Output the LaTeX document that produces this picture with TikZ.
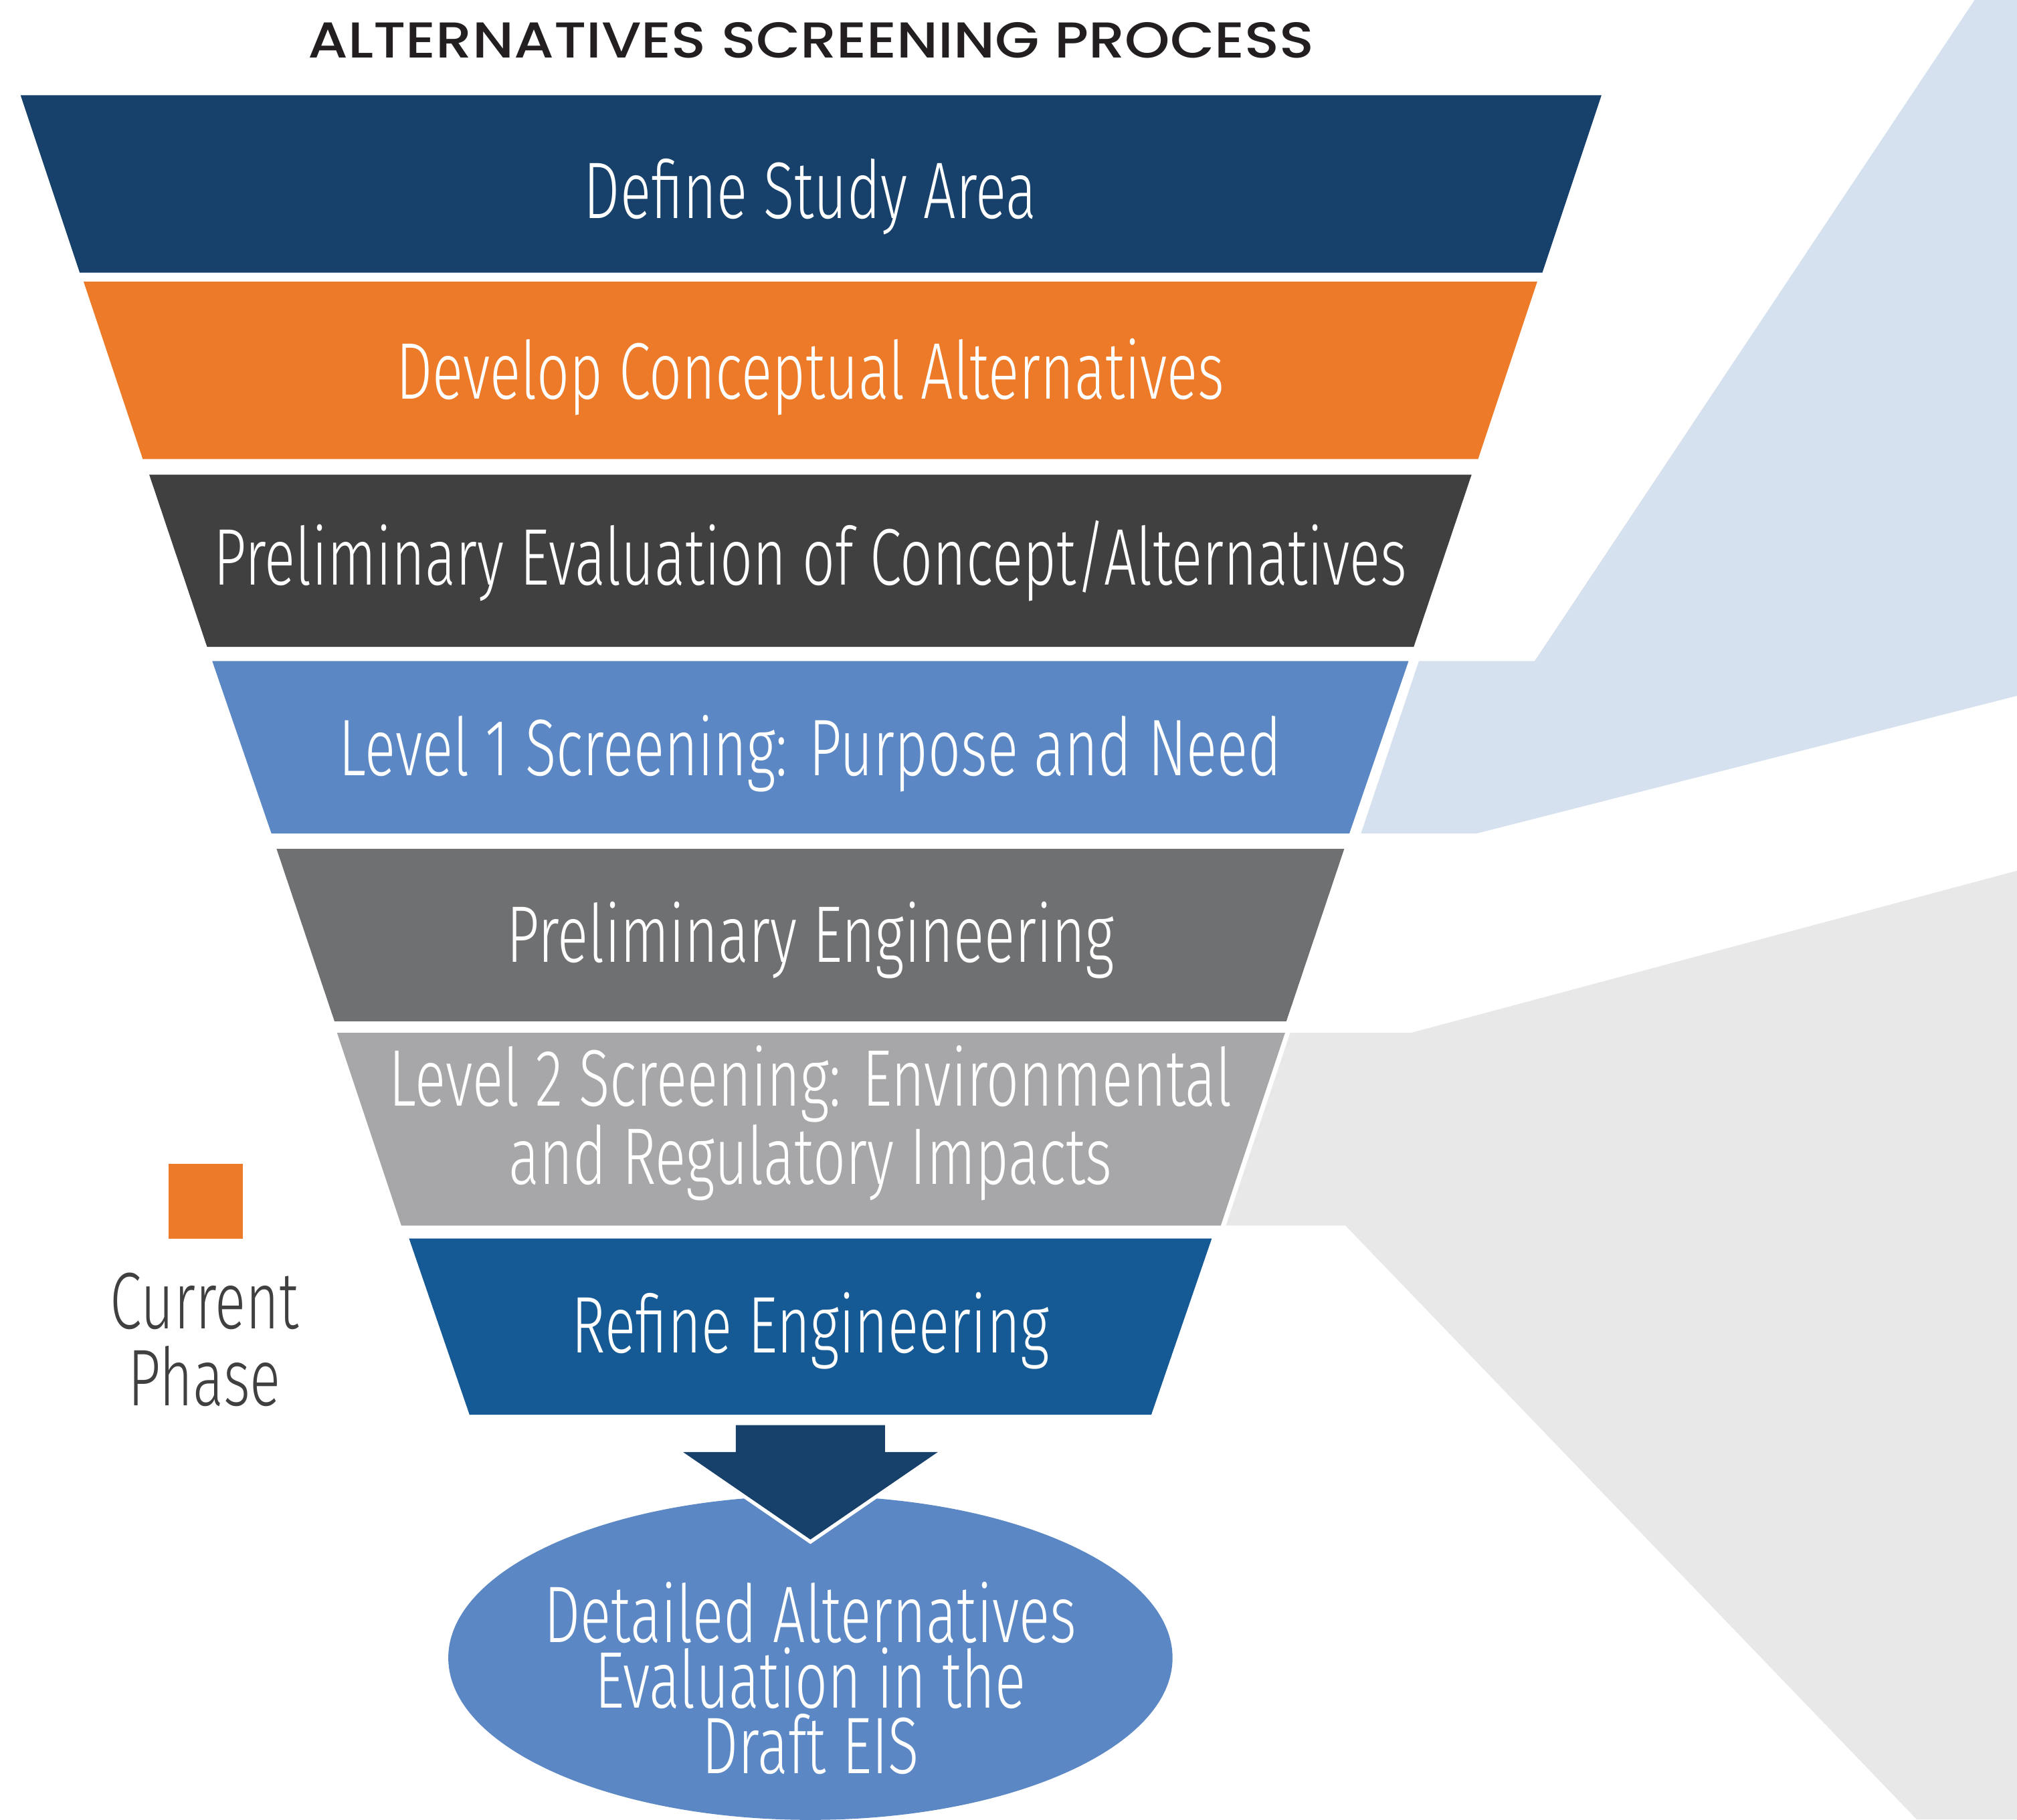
\documentclass[tikz,border=0pt]{standalone}
\usepackage{fontspec}
\newfontfamily\bandfont[FakeStretch=0.715]{Fira Sans Light}
\newfontfamily\titlefont[FakeStretch=1.14]{Poppins Medium}
\definecolor{cNavy}{HTML}{17416B}
\definecolor{cOrange}{HTML}{EC7A28}
\definecolor{cDark}{HTML}{404040}
\definecolor{cBlue}{HTML}{5B88C5}
\definecolor{cGray}{HTML}{6F7072}
\definecolor{cLGray}{HTML}{A7A7A9}
\definecolor{cBlueB}{HTML}{155A94}
\definecolor{cBgBlue}{HTML}{D5E1EF}
\definecolor{cBgGray}{HTML}{E8E8E8}
\definecolor{cTitle}{HTML}{231F20}
\tikzset{
  bandtext/.style={text=white, font=\bandfont\fontsize{31.2}{25.5}\selectfont, anchor=base, inner sep=0pt, align=center},
  legendtext/.style={text=cDark, font=\bandfont\fontsize{31.2}{30}\selectfont, anchor=base, inner sep=0pt, align=center},
  titletext/.style={text=cTitle, font=\titlefont\fontsize{19.6}{23}\selectfont, anchor=base, inner sep=0pt}
}
\begin{document}
\begin{tikzpicture}[x=0.5pt,y=-0.5pt]
\useasboundingbox (0,0) rectangle (1568,1414.6);
% background wedges
\fill[cBgBlue] (1535,0) -- (1568,0) -- (1568,541) -- (1148,648) -- (1058,648) -- (1103,514) -- (1193,514) -- cycle;
\fill[cBgGray] (1568,677) -- (1097,803) -- (1003,803) -- (953,953) -- (1046,953) -- (1490,1414.6) -- (1568,1414.6) -- cycle;
% title
\node[titletext] (title) at (630.5,45) {ALTERNATIVES SCREENING PROCESS};
% funnel bands
\fill[cNavy]   (16,74) -- (1245,74) -- (1199,212) -- (62,212) -- cycle;
\fill[cOrange] (65,219) -- (1195,219) -- (1149,357) -- (111,357) -- cycle;
\fill[cDark]   (116,369) -- (1144,369) -- (1099,503) -- (161,503) -- cycle;
\fill[cBlue]   (165,514) -- (1095,514) -- (1049,648) -- (211,648) -- cycle;
\fill[cGray]   (215,660) -- (1045,660) -- (1000,794) -- (260,794) -- cycle;
\fill[cLGray]  (262,803) -- (999,803) -- (949,953) -- (312,953) -- cycle;
\fill[cBlueB]  (318,963) -- (942,963) -- (895,1100) -- (365,1100) -- cycle;
% band labels (base anchor = baseline of last line)
\node[bandtext] (b1) at (630,170) {Define Study Area};
\node[bandtext] (b2) at (630,310) {Develop Conceptual Alternatives};
\node[bandtext] (b3) at (630,455) {Preliminary Evaluation of Concept/Alternatives};
\node[bandtext] (b4) at (630,603) {Level 1 Screening: Purpose and Need};
\node[bandtext] (b5) at (630,748) {Preliminary Engineering};
\node[bandtext] (b6) at (630,921) {Level 2 Screening: Environmental\\and Regulatory Impacts};
\node[bandtext] (b7) at (630,1052) {Refine Engineering};
% ellipse
\fill[cBlue] (630,1289) ellipse [x radius=281.5, y radius=126];
% arrow
\draw[white, line width=2.9pt, line join=miter] (572,1108) -- (688,1108) -- (688,1129) -- (729,1129) -- (630,1197) -- (531,1129) -- (572,1129) -- cycle;
\fill[cNavy] (572,1108) -- (688,1108) -- (688,1129) -- (729,1129) -- (630,1197) -- (531,1129) -- (572,1129) -- cycle;
% ellipse label
\node[bandtext] (eis) at (630,1379) {Detailed Alternatives\\Evaluation in the\\Draft EIS};
% legend
\fill[cOrange] (131,905) rectangle (189,963);
\node[legendtext] (legend) at (159,1093) {Current\\Phase};
\end{tikzpicture}
\end{document}
